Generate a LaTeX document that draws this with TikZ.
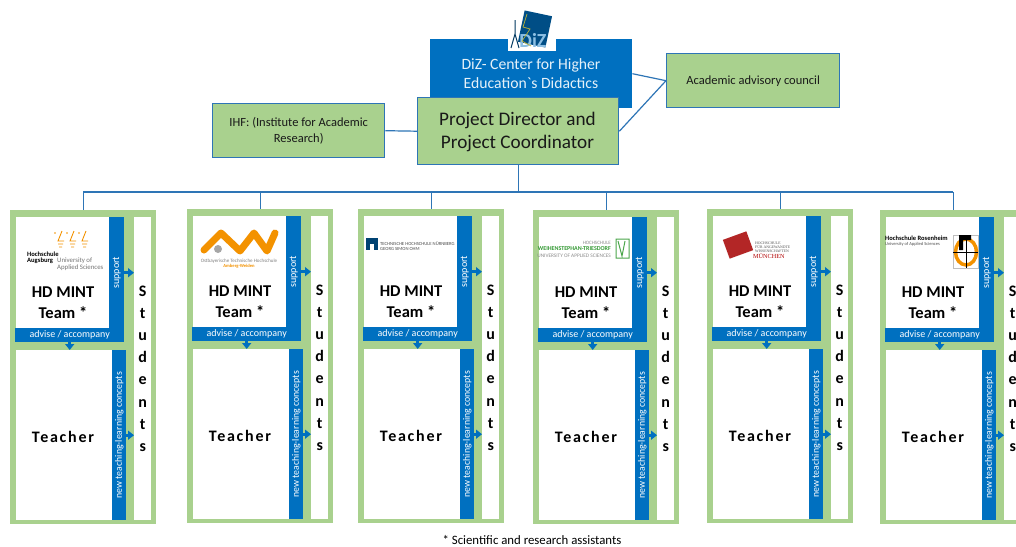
\documentclass[tikz,border=0pt]{standalone}
\usepackage{fontspec}
\usetikzlibrary{arrows.meta}
\setmainfont{Carlito}
\newfontfamily\teacherfont[LetterSpace=11]{Carlito}
\newfontfamily\gravefont{Carlito}
\newfontfamily\logoserif{Liberation Serif}
\definecolor{mintblue}{HTML}{0070C0}
\definecolor{mintgreen}{HTML}{A9D18E}
\definecolor{wireblue}{HTML}{2E75B6}
\definecolor{logoorange}{HTML}{F39200}
\tikzset{
	box/.style={rectangle,inner sep=0pt,anchor=north west},
	greenbox/.style={box,fill=mintgreen,draw=wireblue,line width=1.4pt,align=center,text=black!90},
	frame/.style={box,fill=mintgreen,minimum width=146,minimum height=314},
	whitebox/.style={box,fill=white},
	bluebox/.style={box,fill=mintblue,text=white,font=\fontsize{10}{12}\selectfont},
	uplabel/.style={bluebox,rotate=90,anchor=north east},
	wire/.style={wireblue,line width=1.2pt},
	flow/.style={mintblue,line width=3pt,-{Triangle[length=6pt,width=9pt]}},
	logotext/.style={inner sep=0pt,anchor=west,align=left,font=\fontsize{6}{7}\selectfont},
}
\begin{document}
\begin{tikzpicture}[x=1pt,y=-1pt]
	\useasboundingbox (0,0) rectangle (1016,546);
	\clip (0,0) rectangle (1016,546);
	\fill[white] (0,0) rectangle (1016,546);

	\coordinate (busw) at (83,192);
	\coordinate (buse) at (953,192);

	% columns
	\foreach \i/\fx/\fy in {1/10/210,2/187/209,3/358/209,4/533/210,5/707/209,6/880/210} {
		\draw (\fx,\fy) node [frame] (frame\i) {};
		\draw (\fx+6,\fy+7) node [whitebox,minimum width=93,minimum height=111] (team\i) {};
		\draw (\fx+99,\fy+7) node [uplabel,minimum width=111,minimum height=15] (support\i) {support};
		\draw (\fx+5,\fy+118) node [bluebox,minimum width=109,minimum height=14] (advise\i) {advise / accompany};
		\draw (\fx+6,\fy+140) node [whitebox,minimum width=96,minimum height=170] (teacher\i) {};
		\draw (\fx+102,\fy+140) node [uplabel,minimum width=170,minimum height=14,font=\fontsize{9.8}{12}\selectfont] (concepts\i) {new teaching-learning concepts};
		\draw (\fx+124,\fy+7) node [whitebox,minimum width=17,minimum height=303,align=center,
			font=\fontsize{16}{22.2}\selectfont\bfseries] (students\i) {S\\t\\u\\d\\e\\n\\t\\s};
		\draw (\fx+53,\fy+93) node [inner sep=0pt,align=center,font=\fontsize{16.5}{21}\selectfont\bfseries] (teamlabel\i) {HD MINT\\Team *};
		\draw (\fx+53,\fy+227) node [inner sep=0pt,font=\fontsize{16}{18}\selectfont\teacherfont\bfseries] (teacherlabel\i) {Teacher};
		\draw[wire] (frame\i.north |- busw) -- (frame\i.north);
		\draw[flow] (support\i.south) -- (students\i.west |- support\i.south);
		\draw[flow] (concepts\i.south) -- (students\i.west |- concepts\i.south);
		\draw[flow] (advise\i.south) -- (advise\i.south |- teacher\i.north);
	}

	% top of the chart
	\draw (430,39) node [box,fill=mintblue,minimum width=202,minimum height=69] (diz) {};
	\draw (531,73.5) node [inner sep=0pt,align=center,text=white!90!mintblue,font=\fontsize{15.7}{19.5}\selectfont] (dizlabel) {DiZ- Center for Higher\\Education{\gravefont`}s Didactics};
	\draw (508,10) node [box,fill=white,minimum width=48,minimum height=41] (dizlogo) {};
	\draw (535,29) node [rectangle,rotate=-12,fill=mintblue!70!black,minimum width=28,minimum height=32,inner sep=0pt] (dizsquare) {};
	\draw (533,40) node [inner sep=0pt,text=mintblue!45,font=\fontsize{20}{20}\selectfont\bfseries] (dizmark) {DiZ};
	\draw[yellow!70!black,line width=0.7pt] (527,14) -- (523,27) -- (530,29) -- (522,41) -- (531,46);
	\draw[mintblue!50!black,line width=1pt] (515,20) -- (515,34) (511,48) -- (515,34) -- (519,48);

	\draw (417,97) node [greenbox,minimum width=201,minimum height=67] (director) {};
	\draw (517.5,131.5) node [inner sep=0pt,align=center,text=black!90,font=\fontsize{19.2}{23}\selectfont] (directorlabel) {Project Director and\\Project Coordinator};
	\draw (666,53) node [greenbox,minimum width=173,minimum height=54,font=\fontsize{12.5}{15}\selectfont] (council) {Academic advisory council};
	\draw (212,103) node [greenbox,minimum width=172,minimum height=54,font=\fontsize{12.5}{16}\selectfont] (ihf) {IHF: (Institute for Academic\\Research)};

	\draw[wire] (ihf.east) -- (director.west);
	\draw[wire] (diz.east) -- (council.west);
	\draw[wire] (director.east) -- (council.west);
	\draw[wire] (busw) -- (buse);
	\draw[wire] (director.south) -- (director.south |- busw);

	% Augsburg
	\foreach \bx in {59,71,83} {
		\draw[logoorange,line width=0.9pt] (\bx+3,231) -- (\bx-1,241) -- (\bx+5,241) (\bx-1,244) -- (\bx+4,244) (\bx,247) -- (\bx+3,247);
		\fill[logoorange] (\bx-4,233) circle (0.8);
	}
	\draw (27,254) node [logotext,font=\fontsize{6.6}{8}\selectfont\bfseries] (hsa) {Hochschule};
	\draw (27,261) node [logotext,font=\fontsize{6.6}{8}\selectfont\bfseries] (hsb) {Augsburg};
	\draw (57,264.5) node [logotext,text=black!55,font=\fontsize{6.8}{7}\selectfont] (hsc) {University of\\Applied Sciences};

	% Amberg-Weiden
	\draw[logoorange,line width=7pt,line cap=round,line join=round] (204,250) -- (221,233) -- (240,251) -- (254,233) -- (267,251) -- (275,233);
	\fill[black!35] (218,249) circle (4);
	\draw (239,261) node [inner sep=0pt,text=black!50,font=\fontsize{5}{5}\selectfont] (otha) {Ostbayerische Technische Hochschule};
	\draw (239,266) node [inner sep=0pt,text=logoorange,font=\fontsize{4.6}{5}\selectfont\bfseries] (othb) {Amberg-Weiden};

	% Nuernberg
	\fill[mintblue!60!black] (366,238) rectangle (378,250);
	\fill[white] (370,244) rectangle (374,250);
	\draw (380,246.5) node [logotext,text=black!70,font=\fontsize{4.7}{5}\selectfont] (thn) {TECHNISCHE HOCHSCHULE NÜRNBERG\\GEORG SIMON OHM};

	% Weihenstephan
	\draw (611,243) node [inner sep=0pt,anchor=east,text=black!45,font=\fontsize{5}{6}\selectfont] (hswa) {HOCHSCHULE};
	\draw (611,249) node [inner sep=0pt,anchor=east,text=green!50!black!80,font=\fontsize{6}{6}\selectfont\bfseries] (hswb) {WEIHENSTEPHAN-TRIESDORF};
	\draw (611,256) node [inner sep=0pt,anchor=east,text=black!45,font=\fontsize{5.3}{6}\selectfont] (hswc) {UNIVERSITY OF APPLIED SCIENCES};
	\draw[green!50!black!70,line width=1pt] (616,239) rectangle (629,258) (618,241) -- (622,256) -- (625,241);

	% Muenchen
	\draw (738,245) node [rectangle,rotate=20,fill=red!65!black!85,minimum width=25,minimum height=20,inner sep=0pt] (hmsquare) {};
	\draw (755,247) node [logotext,font=\fontsize{3.8}{4.2}\selectfont\logoserif,text=black!70] (hma) {HOCHSCHULE\\FÜR ANGEWANDTE\\WISSENSCHAFTEN};
	\draw (753,256) node [logotext,text=red!70!black,font=\fontsize{6.2}{6}\selectfont\logoserif] (hmb) {MÜNCHEN};

	% Rosenheim
	\draw (885,238) node [logotext,font=\fontsize{6.5}{6}\selectfont\bfseries] (hsra) {Hochschule Rosenheim};
	\draw (885,244) node [logotext,text=black!70,font=\fontsize{4.5}{5}\selectfont] (hsrb) {University of Applied Sciences};
	\draw[black!25,line width=0.5pt] (953,235) rectangle (978,268);
	\draw[logoorange,line width=3.5pt] (966,252) ellipse (10.5 and 13);
	\draw[black,line width=0.5pt] (953,252) -- (978,252) (966,235) -- (966,268);
	\fill[black] (959,235) rectangle (971,240) (959,240) rectangle (963,250);

	\draw (532,540) node [inner sep=0pt,font=\fontsize{12.8}{14}\selectfont] (footnote) {* Scientific and research assistants};
\end{tikzpicture}
\end{document}
